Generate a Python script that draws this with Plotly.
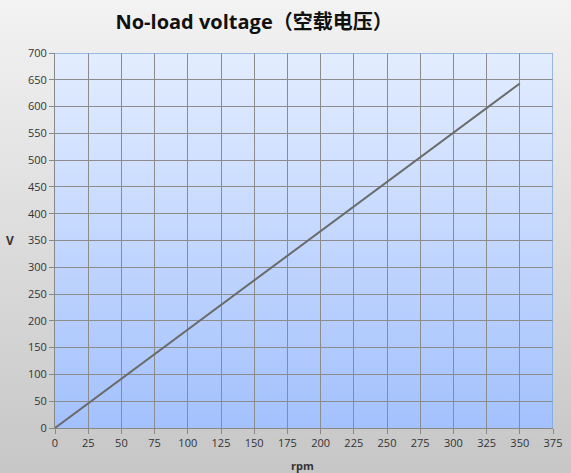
import base64
import plotly.graph_objects as go

rpm = [0, 350]
voltage = [0, 643]

x_ticks = list(range(0, 400, 25))
y_ticks = list(range(0, 750, 50))


def gradient_svg(top, bottom):
    svg = (
        '<svg xmlns="http://www.w3.org/2000/svg" width="100" height="100" preserveAspectRatio="none">'
        '<defs><linearGradient id="g" x1="0" y1="0" x2="0" y2="1">'
        f'<stop offset="0" stop-color="{top}"/><stop offset="1" stop-color="{bottom}"/>'
        '</linearGradient></defs><rect width="100" height="100" fill="url(#g)"/></svg>'
    )
    return "data:image/svg+xml;base64," + base64.b64encode(svg.encode()).decode()


fig = go.Figure()
fig.add_trace(go.Scatter(
    x=rpm, y=voltage, mode="lines",
    line=dict(color="#6b6b6b", width=2),
    hoverinfo="x+y", showlegend=False,
))

# background gradients (whole chart and plot area)
fig.add_layout_image(dict(
    source=gradient_svg("#f3f3f3", "#c6c6c6"),
    xref="paper", yref="paper", x=-0.15, y=1.15, sizex=1.2, sizey=1.28,
    xanchor="left", yanchor="top", sizing="stretch", layer="below",
))
fig.add_layout_image(dict(
    source=gradient_svg("#e3edff", "#a3c1fd"),
    xref="x", yref="y", x=0, y=700, sizex=375, sizey=700,
    xanchor="left", yanchor="top", sizing="stretch", layer="below",
))

font = "Open Sans, Liberation Sans, Noto Sans CJK SC, sans-serif"

fig.update_layout(
    width=571, height=473,
    margin=dict(l=55, r=18, t=53, b=45),
    paper_bgcolor="#dedede",
    plot_bgcolor="rgba(0,0,0,0)",
    font=dict(family=font, size=11, color="#333333"),
    title=dict(
        text="<b>No-load voltage（空载电压）</b>",
        font=dict(family="Open Sans, Noto Sans CJK SC, sans-serif", size=20, color="#111111"),
        x=0.445, xanchor="center", y=0.953, yanchor="middle",
    ),
    xaxis=dict(
        range=[0, 375], tickvals=x_ticks, ticks="outside", ticklen=5,
        tickcolor="#888888", showgrid=True, gridcolor="#8c8c8c", gridwidth=1,
        showline=True, linecolor="#888888", zeroline=False,
        automargin=False, fixedrange=True,
    ),
    yaxis=dict(
        range=[0, 700], tickvals=y_ticks, ticks="outside", ticklen=5,
        tickcolor="#888888", showgrid=True, gridcolor="#8c8c8c", gridwidth=1,
        showline=True, linecolor="#888888", zeroline=False,
        automargin=False, fixedrange=True,
    ),
)

# axis titles
fig.add_annotation(text="<b>V</b>", xref="paper", yref="paper", x=-0.09, y=0.5,
                   xanchor="center", yanchor="middle",
                   showarrow=False, font=dict(size=12, color="#333333"))
fig.add_annotation(text="<b>rpm</b>", xref="paper", yref="paper", x=0.496, y=-0.1,
                   xanchor="center", yanchor="middle",
                   showarrow=False, font=dict(size=11, color="#333333"))

# blue border on top and right of plot area
fig.add_shape(type="line", xref="x", yref="y", x0=0, x1=375, y0=700, y1=700,
              line=dict(color="#7fa6dc", width=1.5))
fig.add_shape(type="line", xref="x", yref="y", x0=375, x1=375, y0=0, y1=700,
              line=dict(color="#7fa6dc", width=1.5))

fig.write_html("out.html", config={"displayModeBar": False},
               post_script="document.body.style.margin='0';")
